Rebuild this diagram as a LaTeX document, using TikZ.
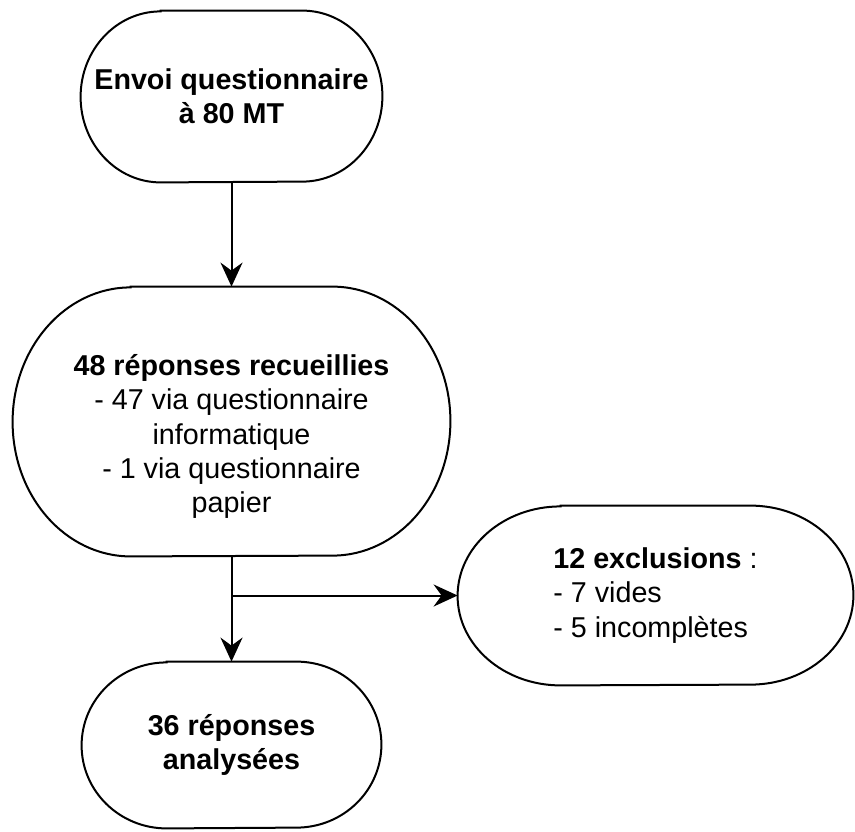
\documentclass[tikz,border=0pt]{standalone}
\usepackage{fontspec}
\setmainfont{Liberation Sans}
\usetikzlibrary{arrows.meta}

% capsule outline round a node: node, end x radius, end y radius
\newcommand{\capsule}[3]{%
  \draw[line width=1pt] ([xshift=#2]#1.north west) -- ([xshift=-#2]#1.north east)
    arc[start angle=90,end angle=-90,x radius=#2,y radius=#3]
    -- ([xshift=#2]#1.south west)
    arc[start angle=270,end angle=90,x radius=#2,y radius=#3] -- cycle;}

\begin{document}
\begin{tikzpicture}[x=0.5pt,y=-0.5pt,
  box/.style={inner sep=0pt,align=center,font=\fontsize{14.35}{17.2}\selectfont},
  arr/.style={line width=1pt,-{Stealth[length=12pt,width=11pt,inset=4pt]}}]
  \fill[white] (0,0) rectangle (855,831);
  \useasboundingbox (0,0) rectangle (855,831);

  \node[box,minimum width=150.5pt,minimum height=85.5pt] (envoi) at (231.5,96.5)
    {\textbf{Envoi questionnaire}\\\textbf{à 80 MT}};
  \node[box,minimum width=218.5pt,minimum height=134.5pt] (rep) at (231.5,421.5) {};
  \node[box] (reptxt) at ([yshift=-7.5pt]rep.center)
    {\textbf{48 réponses recueillies}\\- 47 via questionnaire\\informatique\\- 1 via questionnaire\\papier};
  \node[box,align=left,minimum width=197.5pt,minimum height=89.5pt] (excl) at (655.5,595.5)
    {\textbf{12 exclusions} :\\- 7 vides\\- 5 incomplètes};
  \node[box,minimum width=149.5pt,minimum height=83pt] (ana) at (231.5,745)
    {\textbf{36 réponses}\\\textbf{analysées}};

  \capsule{envoi}{40pt}{42.75pt}
  \capsule{rep}{59pt}{67.25pt}
  \capsule{excl}{51.5pt}{44.75pt}
  \capsule{ana}{42.5pt}{41.5pt}

  \draw[arr] (envoi) -- (rep);
  \draw[arr] (rep) -- (ana);
  \coordinate (split) at (rep.south |- excl.west);
  \draw[arr] (split) -- (excl);
\end{tikzpicture}
\end{document}
